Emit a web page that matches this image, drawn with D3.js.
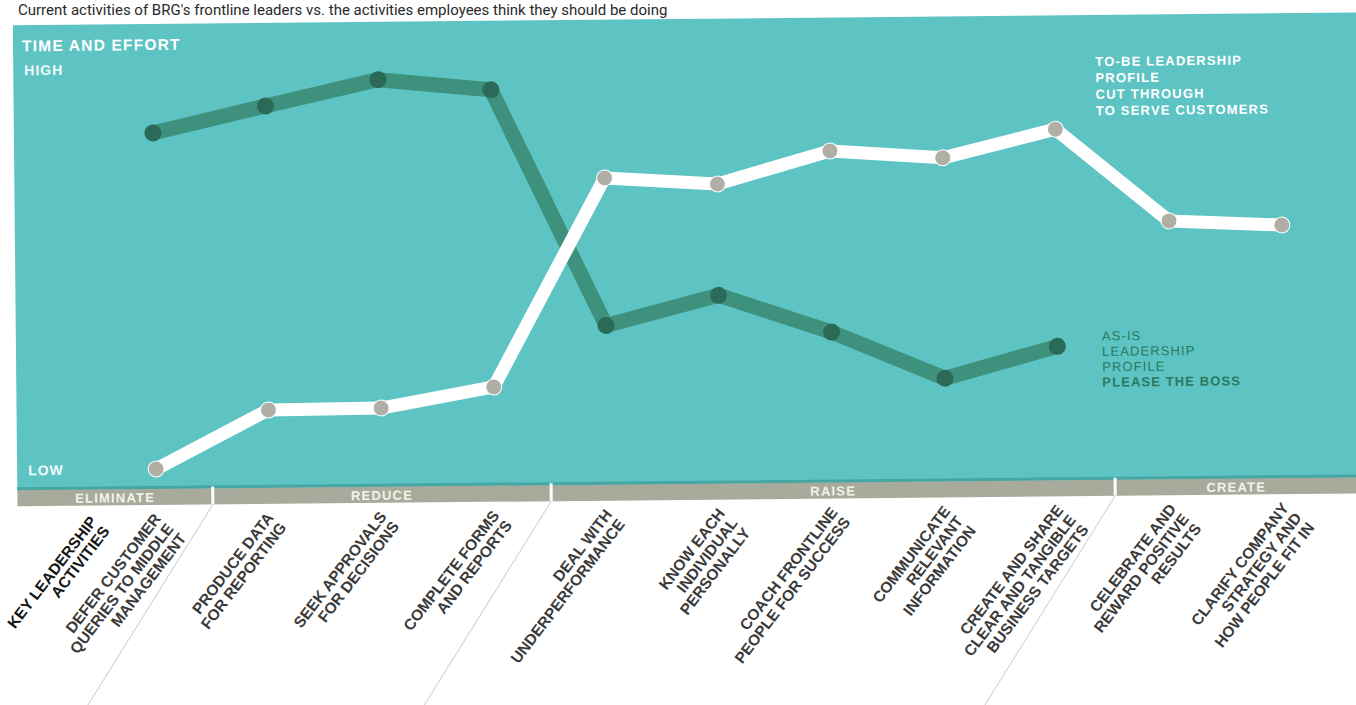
<!DOCTYPE html>
<html>
<head>
<meta charset="utf-8">
<script src="https://cdn.jsdelivr.net/npm/d3@7"></script>
<style>
html, body { margin: 0; padding: 0; background: #fff; overflow: hidden; }
svg { display: block; font-family: "Liberation Sans", Arial, sans-serif; }
</style>
</head>
<body>
<svg id="chart" width="1356" height="705"></svg>
<script>
// activities, each label split into its printed lines
var categories = [
  ["DEFER CUSTOMER", "QUERIES TO MIDDLE", "MANAGEMENT"],
  ["PRODUCE DATA", "FOR REPORTING"],
  ["SEEK APPROVALS", "FOR DECISIONS"],
  ["COMPLETE FORMS", "AND REPORTS"],
  ["DEAL WITH", "UNDERPERFORMANCE"],
  ["KNOW EACH", "INDIVIDUAL", "PERSONALLY"],
  ["COACH FRONTLINE", "PEOPLE FOR SUCCESS"],
  ["COMMUNICATE", "RELEVANT", "INFORMATION"],
  ["CREATE AND SHARE", "CLEAR AND TANGIBLE", "BUSINESS TARGETS"],
  ["CELEBRATE AND", "REWARD POSITIVE", "RESULTS"],
  ["CLARIFY COMPANY", "STRATEGY AND", "HOW PEOPLE FIT IN"]
];
var groupNames = ["ELIMINATE", "REDUCE", "RAISE", "CREATE"];
var groupSizes = [1, 3, 5, 2];

// time and effort, 0 = low, 10 = high
var asIs = [8.55, 9.2, 9.83, 9.55, 3.63, 4.36, 3.41, 2.23, 3.0, null, null];
var toBe = [0.15, 1.6, 1.62, 2.12, 7.32, 7.14, 7.94, 7.74, 8.43, 6.11, 5.98];

var yTickValues = [0, 10];
var yTickLabels = ["LOW", "HIGH"];

var keys = categories.map(function(c) { return c.join(" "); });

var svg = d3.select("#chart");

svg.append("text")
  .attr("x", 18).attr("y", 15)
  .attr("font-family", "Roboto, 'Open Sans', sans-serif")
  .attr("font-size", 15)
  .attr("fill", "#2a2a2a")
  .text("Current activities of BRG's frontline leaders vs. the activities employees think they should be doing");

// the printed page is scanned slightly tilted
var g = svg.append("g").attr("transform", "rotate(-0.55,678,350)");

var x = d3.scalePoint().domain(keys).range([155, 1283]);
var y = d3.scaleLinear().domain([0, 10]).range([470, 70]);

// teal panel
g.append("rect")
  .attr("x", 16).attr("y", 19)
  .attr("width", 1400).attr("height", 466)
  .attr("fill", "#5dc4c3");

g.append("rect")
  .attr("x", 16).attr("y", 481)
  .attr("width", 1400).attr("height", 3)
  .attr("fill", "#45a6a4");

// grey band with the four strategies
g.append("rect")
  .attr("x", 16).attr("y", 484)
  .attr("width", 1400).attr("height", 16)
  .attr("fill", "#a8aa9b");

var bounds = [16];
var idx = 0;
groupSizes.forEach(function(n, gi) {
  idx += n;
  if (gi < groupSizes.length - 1) {
    bounds.push((x(keys[idx - 1]) + x(keys[idx])) / 2);
  }
});
bounds.push(1356);

bounds.slice(1, -1).forEach(function(bx) {
  g.append("rect")
    .attr("x", bx - 1.5).attr("y", 482)
    .attr("width", 3).attr("height", 18)
    .attr("fill", "#fff");
  g.append("line")
    .attr("x1", bx).attr("y1", 500)
    .attr("x2", bx - 140).attr("y2", 720)
    .attr("stroke", "#d0d0d0")
    .attr("stroke-width", 1);
});

groupNames.forEach(function(name, gi) {
  g.append("text")
    .attr("x", (bounds[gi] + bounds[gi + 1]) / 2)
    .attr("y", 497)
    .attr("text-anchor", "middle")
    .attr("font-size", 13)
    .attr("font-weight", "bold")
    .attr("letter-spacing", 1.2)
    .attr("fill", "#f3f3ec")
    .text(name);
});

// axis labels
g.append("text")
  .attr("x", 25).attr("y", 45)
  .attr("font-size", 15.5)
  .attr("font-weight", 900)
  .attr("letter-spacing", 1.2)
  .attr("fill", "#fff")
  .text("TIME AND EFFORT");

var yAxis = d3.axisRight(y)
  .tickValues(yTickValues)
  .tickSize(0)
  .tickFormat(function(d, i) { return yTickLabels[i]; });

var ya = g.append("g")
  .attr("transform", "translate(24,-6)")
  .call(yAxis);
ya.select(".domain").remove();
ya.selectAll("text")
  .attr("font-family", "'Liberation Sans', Arial, sans-serif")
  .attr("font-size", 14)
  .attr("font-weight", "bold")
  .attr("letter-spacing", 1)
  .attr("fill", "#f2fbfa");

// lines
var line = d3.line()
  .defined(function(d) { return d != null; })
  .x(function(d, i) { return x(keys[i]); })
  .y(function(d) { return y(d); });

g.append("path")
  .datum(asIs)
  .attr("d", line)
  .attr("fill", "none")
  .attr("stroke", "#3d917d")
  .attr("stroke-width", 15)
  .attr("stroke-linejoin", "round")
  .attr("stroke-linecap", "round");

g.selectAll(".asis-dot")
  .data(asIs.map(function(v, i) { return {k: keys[i], v: v}; }).filter(function(d) { return d.v != null; }))
  .enter()
  .append("circle")
  .attr("class", "asis-dot")
  .attr("cx", function(d) { return x(d.k); })
  .attr("cy", function(d) { return y(d.v); })
  .attr("r", 8.5)
  .attr("fill", "#2b6a57");

g.append("path")
  .datum(toBe)
  .attr("d", line)
  .attr("fill", "none")
  .attr("stroke", "#ffffff")
  .attr("stroke-width", 13)
  .attr("stroke-linejoin", "round")
  .attr("stroke-linecap", "round");

g.selectAll(".tobe-dot")
  .data(toBe.map(function(v, i) { return {k: keys[i], v: v}; }))
  .enter()
  .append("circle")
  .attr("class", "tobe-dot")
  .attr("cx", function(d) { return x(d.k); })
  .attr("cy", function(d) { return y(d.v); })
  .attr("r", 8)
  .attr("fill", "#b1aea6")
  .attr("stroke", "#fff")
  .attr("stroke-width", 1);

// series labels
var toBeLines = [
  {t: "TO-BE LEADERSHIP", w: "bold"},
  {t: "PROFILE", w: "bold"},
  {t: "CUT THROUGH", w: 900},
  {t: "TO SERVE CUSTOMERS", w: 900}
];
toBeLines.forEach(function(l, i) {
  g.append("text")
    .attr("x", 1098).attr("y", 70 + i * 16.4)
    .attr("font-size", 13)
    .attr("font-weight", l.w)
    .attr("letter-spacing", 1.2)
    .attr("fill", "#fff")
    .text(l.t);
});

var asIsLines = [
  {t: "AS-IS", w: "normal"},
  {t: "LEADERSHIP", w: "normal"},
  {t: "PROFILE", w: "normal"},
  {t: "PLEASE THE BOSS", w: "bold"}
];
asIsLines.forEach(function(l, i) {
  g.append("text")
    .attr("x", 1102).attr("y", 344.5 + i * 15.4)
    .attr("font-size", 13)
    .attr("font-weight", l.w)
    .attr("letter-spacing", 1.1)
    .attr("fill", "#2b7a60")
    .text(l.t);
});

// category labels
var labelTitle = g.append("text")
  .attr("transform", "translate(96,516) rotate(-52)")
  .attr("text-anchor", "end")
  .attr("font-size", 15.5)
  .attr("font-weight", 900)
  .attr("fill", "#141414");
["KEY LEADERSHIP", "ACTIVITIES"].forEach(function(s, i) {
  labelTitle.append("tspan").attr("x", 0).attr("dy", i ? 16 : 0).text(s);
});

categories.forEach(function(c, ci) {
  var t = g.append("text")
    .attr("transform", "translate(" + (x(keys[ci]) + 5) + ",514) rotate(-52)")
    .attr("text-anchor", "end")
    .attr("font-size", 15.5)
    .attr("font-weight", "bold")
    .attr("fill", "#3a3a3a");
  c.forEach(function(s, i) {
    t.append("tspan").attr("x", 0).attr("dy", i ? 16 : 0).text(s);
  });
});
</script>
</body>
</html>
